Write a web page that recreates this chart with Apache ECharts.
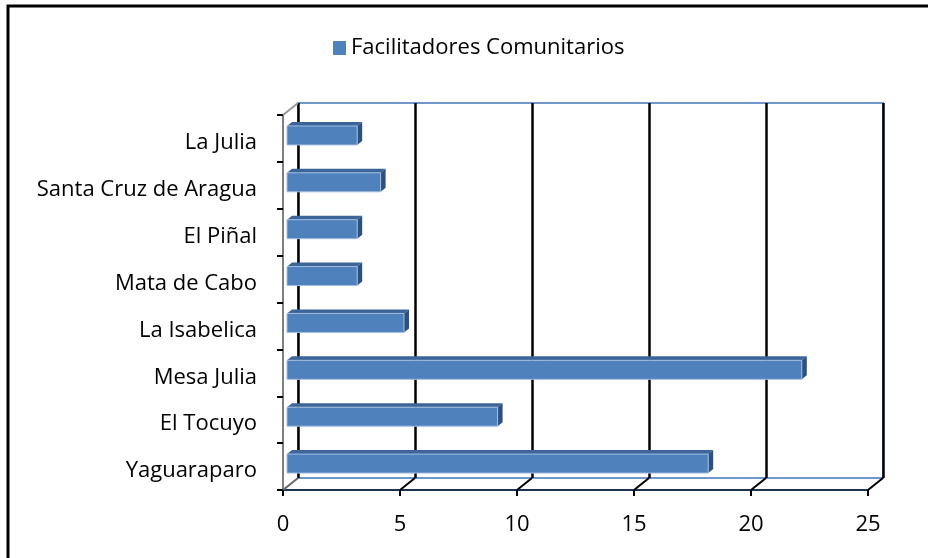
<!DOCTYPE html>
<html>
<head>
<meta charset="utf-8">
<script src="https://cdn.jsdelivr.net/npm/echarts@6/dist/echarts.min.js"></script>
<style>
  html, body { margin: 0; padding: 0; background: #fff; }
  #chart { width: 928px; height: 558px; }
</style>
</head>
<body>
<div id="chart"></div>
<script>
// categories from bottom to top, as in the picture
const categories = ['Yaguaraparo', 'El Tocuyo', 'Mesa Julia', 'La Isabelica', 'Mata de Cabo', 'El Piñal', 'Santa Cruz de Aragua', 'La Julia']
const values = [18, 9, 22, 5, 3, 3, 4, 3]
const seriesName = 'Facilitadores Comunitarios'
const xTicks = [0, 5, 10, 15, 20, 25]

const FONT = 'Open Sans'
// depth of the 3d box (front plane -> back wall)
const DX = 15, DY = -12

const chart = echarts.init(document.getElementById('chart'))

const option = {
  animation: false,
  backgroundColor: '#fff',
  textStyle: { fontFamily: FONT },
  graphic: [
    {
      type: 'rect',
      shape: { x: 8, y: 6, width: 1000, height: 1000 },
      style: { fill: 'none', stroke: '#000', lineWidth: 3 },
      silent: true
    }
  ],
  legend: {
    left: 328,
    top: 32,
    itemWidth: 13,
    itemHeight: 14,
    itemGap: 6,
    textStyle: { fontFamily: FONT, fontSize: 22, color: '#000' },
    data: [{ name: seriesName, icon: 'rect', itemStyle: { color: '#4F81BD' } }]
  },
  grid: [
    // front plane
    { left: 283, right: 60, top: 115, bottom: 68 },
    // back wall
    { left: 298, right: 45, top: 103, bottom: 80, show: true, borderColor: '#6f97c9', borderWidth: 2, backgroundColor: 'transparent' }
  ],
  xAxis: [
    {
      gridIndex: 0,
      type: 'value',
      min: 0,
      max: 25,
      interval: 5,
      axisLine: { show: true, lineStyle: { color: '#1c3354', width: 2 } },
      axisTick: { show: true, length: 6, lineStyle: { color: '#000', width: 2 } },
      axisLabel: { fontFamily: FONT, fontSize: 22, color: '#000', margin: 24 },
      splitLine: { show: false }
    },
    {
      gridIndex: 1,
      type: 'value',
      min: 0,
      max: 25,
      interval: 5,
      axisLine: { show: false },
      axisTick: { show: false },
      axisLabel: { show: false },
      splitLine: { show: true, lineStyle: { color: '#000', width: 2.5 } }
    }
  ],
  yAxis: [
    {
      gridIndex: 0,
      type: 'category',
      data: categories,
      axisLine: { show: true, lineStyle: { color: '#555', width: 1.5 } },
      axisTick: { show: true, length: 6, lineStyle: { color: '#000', width: 2 } },
      axisLabel: { fontFamily: FONT, fontSize: 22, color: '#000', margin: 26, verticalAlign: 'top', lineHeight: 9 },
      splitLine: { show: false }
    },
    {
      gridIndex: 1,
      type: 'category',
      data: categories,
      show: false
    }
  ],
  series: [
    {
      // floor diagonals from the front ticks to the back wall
      type: 'custom',
      xAxisIndex: 0,
      yAxisIndex: 0,
      silent: true,
      z: 1,
      data: xTicks.map(v => [v, 0]),
      renderItem: (params, api) => {
        const cs = params.coordSys
        const x = api.coord([api.value(0), 0])[0]
        const bottom = cs.y + cs.height
        const children = [{
          type: 'line',
          shape: { x1: x, y1: bottom, x2: x + DX, y2: bottom + DY },
          style: { stroke: api.value(0) === 0 ? '#666' : '#000', lineWidth: 2 }
        }]
        if (params.dataIndex === 0) {
          children.push({
            type: 'line',
            shape: { x1: cs.x, y1: cs.y, x2: cs.x + DX, y2: cs.y + DY },
            style: { stroke: '#999', lineWidth: 2 }
          })
        }
        return { type: 'group', children }
      }
    },
    {
      name: seriesName,
      type: 'custom',
      xAxisIndex: 0,
      yAxisIndex: 0,
      z: 3,
      itemStyle: { color: '#4F81BD' },
      encode: { x: 0, y: 1 },
      data: values.map((v, i) => [v, i]),
      renderItem: (params, api) => {
        const cat = api.value(1)
        const p0 = api.coord([0, cat])
        const p1 = api.coord([api.value(0), cat])
        const x0 = p0[0] + 4
        const x1 = p1[0] + 4
        const yc = p0[1] - 3
        const h = 19
        const yt = yc - h / 2
        const yb = yc + h / 2
        const d = 5, e = -4
        return {
          type: 'group',
          children: [
            {
              type: 'polygon',
              shape: { points: [[x0, yt], [x1, yt], [x1 + d, yt + e], [x0 + d, yt + e]] },
              style: { fill: '#3b6599' }
            },
            {
              type: 'polygon',
              shape: { points: [[x1, yt], [x1 + d, yt + e], [x1 + d, yb + e], [x1, yb]] },
              style: { fill: '#2c5080' }
            },
            {
              type: 'rect',
              shape: { x: x0, y: yt, width: x1 - x0, height: h },
              style: { fill: '#4F81BD', stroke: '#a3bde0', lineWidth: 1 }
            }
          ]
        }
      }
    }
  ]
}

chart.setOption(option)
</script>
</body>
</html>
